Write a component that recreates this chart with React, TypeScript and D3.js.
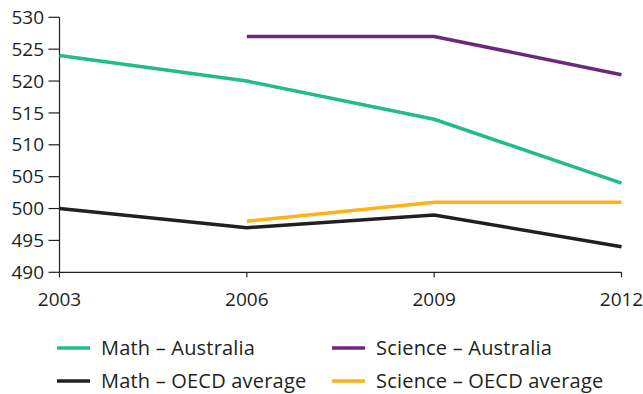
import React from "react";
import * as d3 from "d3";

const years = [2003, 2006, 2009, 2012];
const yTicks = [490, 495, 500, 505, 510, 515, 520, 525, 530];
const mathAustralia: [number, number][] = [[2003, 524], [2006, 520], [2009, 514], [2012, 504]];
const scienceAustralia: [number, number][] = [[2006, 527], [2009, 527], [2012, 521]];
const mathOECD: [number, number][] = [[2003, 500], [2006, 497], [2009, 499], [2012, 494]];
const scienceOECD: [number, number][] = [[2006, 498], [2009, 501], [2012, 501]];

const series = [
  { name: "Math \u2013 Australia", data: mathAustralia, color: "#22bb8b" },
  { name: "Science \u2013 Australia", data: scienceAustralia, color: "#6a2a7b" },
  { name: "Math \u2013 OECD average", data: mathOECD, color: "#231f20" },
  { name: "Science \u2013 OECD average", data: scienceOECD, color: "#fdb216" },
];

export default function App() {
  const W = 643, H = 394;
  const x = d3.scaleLinear().domain([2003, 2012]).range([59.5, 621.5]);
  const y = d3.scaleLinear().domain([490, 530]).range([272.3, 17.3]);
  const line = d3.line<[number, number]>().x(d => x(d[0])).y(d => y(d[1]));
  const font = "'Open Sans', 'Noto Sans', sans-serif";
  const axisColor = "#231f20";
  const fs = 19;
  const legendPos = [
    { lx: 57, ly: 348 },
    { lx: 332, ly: 348 },
    { lx: 57, ly: 381 },
    { lx: 332, ly: 381 },
  ];
  return (
    <svg width={W} height={H} style={{ position: "absolute", left: 0, top: 0 }} fontFamily={font}>
      <rect width={W} height={H} fill="#fff" />
      <line x1={x(2003)} x2={x(2003)} y1={y(530)} y2={y(490)} stroke={axisColor} strokeWidth={1.2} />
      <line x1={x(2003)} x2={x(2012)} y1={y(490)} y2={y(490)} stroke={axisColor} strokeWidth={1.2} />
      {yTicks.map(t => (
        <g key={t}>
          <line x1={x(2003) - 11} x2={x(2003)} y1={y(t)} y2={y(t)} stroke={axisColor} strokeWidth={1.2} />
          <text x={44} y={y(t)} dy="0.35em" textAnchor="end" fontSize={fs} fill="#231f20">{t}</text>
        </g>
      ))}
      {years.map(t => (
        <g key={t}>
          <line x1={x(t)} x2={x(t)} y1={y(490)} y2={y(490) + 5} stroke={axisColor} strokeWidth={1.2} />
          <text x={x(t)} y={306} textAnchor="middle" fontSize={fs} fill="#231f20">{t}</text>
        </g>
      ))}
      {series.map(s => (
        <path key={s.name} d={line(s.data) || ""} fill="none" stroke={s.color} strokeWidth={3.5} />
      ))}
      {series.map((s, i) => (
        <g key={s.name + "l"}>
          <line x1={legendPos[i].lx} x2={legendPos[i].lx + 33} y1={legendPos[i].ly} y2={legendPos[i].ly} stroke={s.color} strokeWidth={3.5} />
          <text x={legendPos[i].lx + 44} y={legendPos[i].ly} dy="0.35em" fontSize={20} letterSpacing={0.2} fill="#231f20">{s.name}</text>
        </g>
      ))}
    </svg>
  );
}
